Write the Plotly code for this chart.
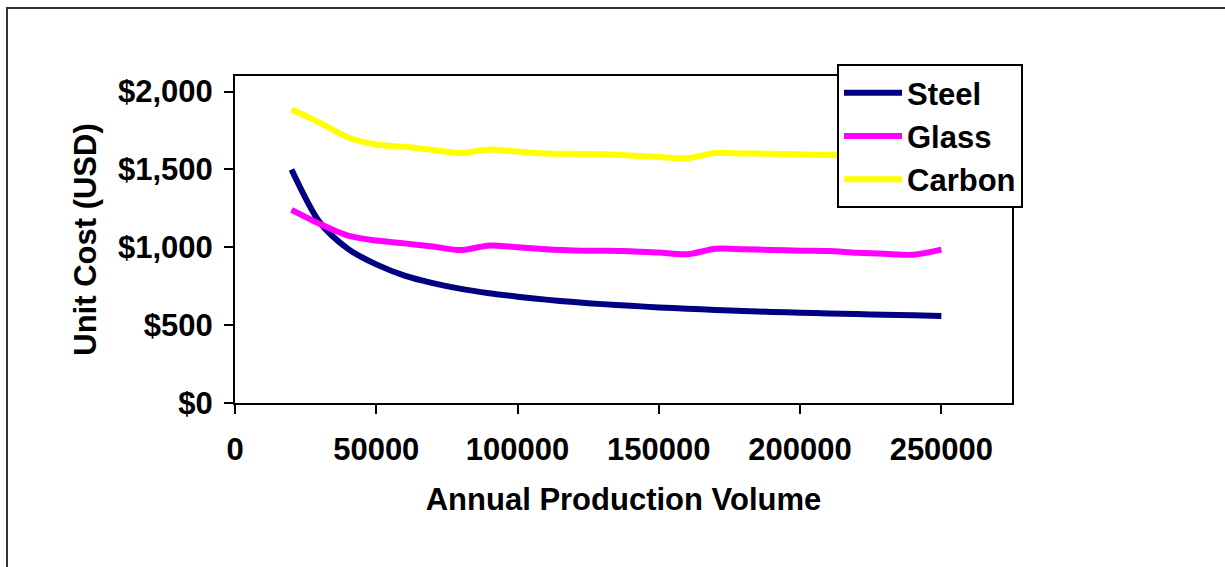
import plotly.graph_objects as go

volume = [20000, 30000, 40000, 50000, 60000, 70000, 80000, 90000, 100000, 110000,
          120000, 130000, 140000, 150000, 160000, 170000, 180000, 190000, 200000,
          210000, 220000, 230000, 240000, 250000]
steel = [1500, 1160, 990, 890, 818, 770, 733, 705, 683, 664, 648, 635, 624, 614,
         605, 598, 591, 585, 580, 575, 571, 567, 563, 558]
glass = [1240, 1150, 1075, 1043, 1025, 1005, 982, 1012, 1000, 988, 980, 978, 975,
         966, 955, 990, 988, 983, 978, 976, 965, 958, 952, 985]
carbon = [1885, 1800, 1705, 1660, 1645, 1625, 1605, 1628, 1615, 1602, 1600, 1597,
          1590, 1580, 1572, 1605, 1603, 1600, 1597, 1592, 1590, 1590, 1590, 1590]

series_names = ["Steel", "Glass", "Carbon"]
series_colors = ["#000080", "#FF00FF", "#FFFF00"]
x_ticks = [0, 50000, 100000, 150000, 200000, 250000]
x_tick_labels = ["0", "50000", "100000", "150000", "200000", "250000"]
y_ticks = [0, 500, 1000, 1500, 2000]
y_tick_labels = ["$0", "$500", "$1,000", "$1,500", "$2,000"]

FONT = "Liberation Sans, Arial, sans-serif"
FS = 31

fig = go.Figure()
for name, vals, col in zip(series_names, [steel, glass, carbon], series_colors):
    fig.add_trace(go.Scatter(x=volume, y=vals, name=name, mode="lines",
                             line=dict(color=col, width=6, shape="spline", smoothing=0.8)))

W, H = 1225, 567
L, R, T, B = 235, 1012, 76, 403
pw, ph = R - L, B - T

def px(xp):
    return (xp - L) / pw

def py(yp):
    return (B - yp) / ph

fig.update_layout(
    width=W, height=H,
    margin=dict(l=L, r=W - R, t=T, b=H - B, pad=0),
    paper_bgcolor="white", plot_bgcolor="white",
    font=dict(family=FONT, size=FS, color="black", weight="bold"),
    showlegend=True,
    legend=dict(x=px(837), y=py(64), xanchor="left", yanchor="top",
                bgcolor="white", bordercolor="black", borderwidth=2,
                itemwidth=58,
                font=dict(family=FONT, size=FS, color="black", weight="bold"),
                tracegroupgap=0),
    xaxis=dict(range=[0, 275000], tickvals=x_ticks, ticktext=x_tick_labels,
               showgrid=False, zeroline=False, showline=True, linecolor="black", linewidth=2,
               mirror=True, ticks="outside", ticklen=9, tickwidth=2, tickcolor="black",
               tickfont=dict(family=FONT, size=FS, weight="bold"),
               ticklabelstandoff=9,
               title=dict(text="Annual Production Volume", standoff=22,
                          font=dict(family=FONT, size=FS, weight="bold"))),
    yaxis=dict(range=[0, 2100], tickvals=y_ticks, ticktext=y_tick_labels,
               showgrid=False, zeroline=False, showline=True, linecolor="black", linewidth=2,
               mirror=True, ticks="outside", ticklen=9, tickwidth=2, tickcolor="black",
               tickfont=dict(family=FONT, size=FS, weight="bold"),
               ticklabelstandoff=5,
               title=dict(text="Unit Cost (USD)", standoff=12,
                          font=dict(family=FONT, size=FS, weight="bold"))),
    shapes=[dict(type="rect", xref="paper", yref="paper",
                 x0=px(7), x1=px(1240), y0=py(590), y1=py(8),
                 line=dict(color="#333333", width=2), fillcolor="rgba(0,0,0,0)", layer="below")],
)

fig.write_html("out.html")
